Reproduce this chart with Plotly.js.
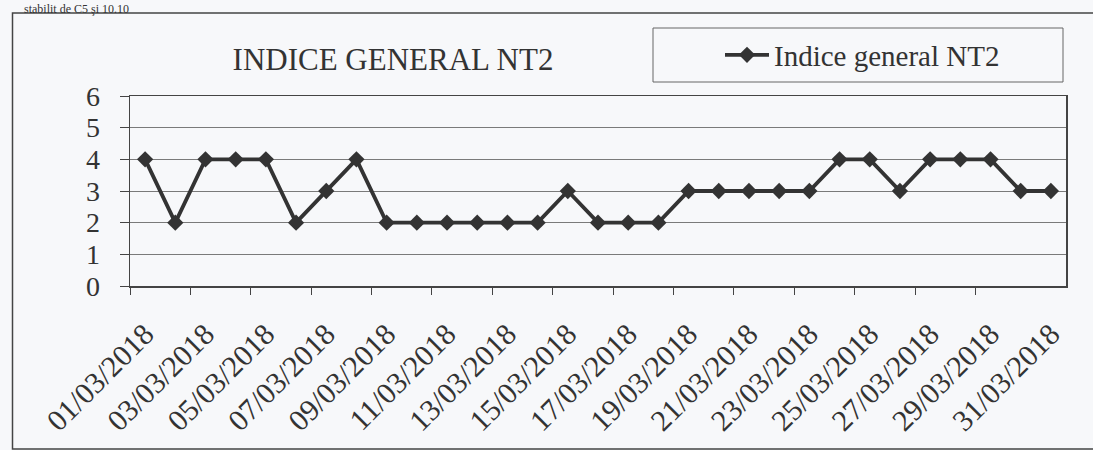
<!DOCTYPE html>
<html>
<head>
<meta charset="utf-8">
<script src="https://cdn.plot.ly/plotly-3.0.1.min.js"></script>
<style>html,body{margin:0;padding:0;background:#f7f8fa;}#chart{width:1093px;height:450px;}</style>
</head>
<body>
<div id="chart"></div>
<script>
const dates = ["01/03/2018","02/03/2018","03/03/2018","04/03/2018","05/03/2018","06/03/2018","07/03/2018","08/03/2018","09/03/2018","10/03/2018","11/03/2018","12/03/2018","13/03/2018","14/03/2018","15/03/2018","16/03/2018","17/03/2018","18/03/2018","19/03/2018","20/03/2018","21/03/2018","22/03/2018","23/03/2018","24/03/2018","25/03/2018","26/03/2018","27/03/2018","28/03/2018","29/03/2018","30/03/2018","31/03/2018"];
const values = [4,2,4,4,4,2,3,4,2,2,2,2,2,2,3,2,2,2,3,3,3,3,3,4,4,3,4,4,4,3,3];
const shownLabels = dates.filter((d, i) => i % 2 === 0);
const boundaryTicks = dates.filter((d, i) => i % 2 === 0 && i < 30).map((d, i) => i * 2 - 0.5);
const seriesName = "Indice general NT2";
const chartTitle = "INDICE GENERAL NT2";
const aboveText = "stabilit de C5 şi 10.10";

const FONT = "Liberation Serif, Times New Roman, serif";
const INK = "#333333";

const trace = {
  x: dates, y: values, type: "scatter", mode: "lines+markers", name: seriesName,
  line: {color: INK, width: 3.8},
  marker: {symbol: "diamond", size: 12.5, color: INK}
};
// empty helper trace so the tick-mark overlay axis (x2) gets drawn
const tickHelper = {x: [], y: [], xaxis: "x2", yaxis: "y", type: "scatter", mode: "markers",
  showlegend: false, hoverinfo: "skip"};

const W = 1093, H = 450, L = 130, R = 27, T = 96, B = 164;
const pw = W - L - R, ph = H - T - B;
const px = v => (v - L) / pw;
const py = v => (H - B - v) / ph;

const layout = {
  width: W, height: H,
  margin: {l: L, r: R, t: T, b: B, pad: 0},
  paper_bgcolor: "#f7f8fa", plot_bgcolor: "#f7f8fa",
  font: {family: FONT, color: INK},
  title: {text: chartTitle, font: {family: FONT, size: 31, color: INK},
          xref: "paper", x: px(393), xanchor: "center",
          yref: "container", y: 1 - 59 / H, yanchor: "middle"},
  showlegend: true,
  legend: {x: px(720), xanchor: "left", y: py(55), yanchor: "middle",
           bgcolor: "rgba(0,0,0,0)", borderwidth: 0,
           font: {family: FONT, size: 29, color: INK}, itemwidth: 44},
  xaxis: {type: "category", range: [-0.5, 30.5], tickvals: shownLabels, ticktext: shownLabels,
          tickangle: -45, ticks: "", showgrid: false, zeroline: false,
          showline: true, linecolor: "#444", linewidth: 1.5, mirror: true,
          tickfont: {family: FONT, size: 30, color: INK}, ticklabelstandoff: 17},
  xaxis2: {overlaying: "x", anchor: "y", side: "bottom", range: [-0.5, 30.5],
           tickmode: "array", tickvals: boundaryTicks, ticks: "outside", ticklen: 8, tickwidth: 1, tickcolor: "#444",
           showticklabels: false, showgrid: false, zeroline: false, showline: false},
  yaxis: {range: [0, 6], dtick: 1, tick0: 0, ticks: "outside", ticklen: 9, tickcolor: "#444",
          showgrid: true, gridcolor: "#7a7a7a", gridwidth: 1, zeroline: false,
          showline: true, linecolor: "#444", linewidth: 1.5, mirror: true,
          tickfont: {family: FONT, size: 28, color: INK}, ticklabelstandoff: 14},
  shapes: [
    {type: "rect", xref: "paper", yref: "paper", x0: px(12.5), x1: px(1110), y0: py(449), y1: py(13),
     line: {color: "#444", width: 1.5}, layer: "below"},
    {type: "rect", xref: "paper", yref: "paper", x0: px(653), x1: px(1063), y0: py(82), y1: py(28),
     line: {color: "#666", width: 1}, layer: "below"}
  ],
  annotations: [
    {text: aboveText, xref: "paper", yref: "paper", x: px(22), xanchor: "left",
     y: py(0), yanchor: "top", showarrow: false,
     font: {family: FONT, size: 12, color: INK}}
  ]
};

Plotly.newPlot("chart", [trace, tickHelper], layout, {displayModeBar: false, staticPlot: true});
</script>
</body>
</html>
